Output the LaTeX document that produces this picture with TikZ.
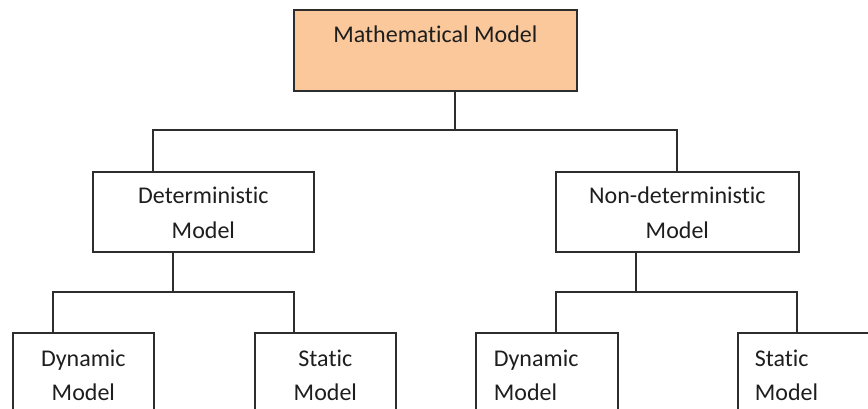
\documentclass[tikz,border=0pt]{standalone}
\usepackage{fontspec}
\setmainfont{Carlito}[Ligatures={NoCommon}]
\definecolor{topfill}{RGB}{250,200,155}
\definecolor{ln}{RGB}{45,45,45}
\definecolor{tx}{RGB}{30,30,30}
\begin{document}
\begin{tikzpicture}[x=1pt,y=-1pt,
  box/.style={draw=ln, line width=1.7pt, inner sep=0pt, anchor=north west, text=tx,
    font=\fontsize{24}{35}\selectfont},
  conn/.style={draw=ln, line width=1.7pt}]
\useasboundingbox (0,0) rectangle (868,409);
\clip (0,0) rectangle (868,409);
\fill[white] (0,0) rectangle (868,409);
% nodes
\node[box, fill=topfill] (top) at (293,9)
  {\parbox[t][81pt][t]{283pt}{\centering\rule{0pt}{33pt}Mathematical Model}};
\node[box] (det) at (92,171)
  {\parbox[t][80pt][t]{221pt}{\centering\rule{0pt}{32pt}Deterministic\\Model}};
\node[box] (nd) at (555,171)
  {\parbox[t][80pt][t]{243pt}{\centering\rule{0pt}{32pt}Non-deterministic\\Model}};
\node[box, font=\fontsize{24}{34}\selectfont] (ldyn) at (12,332)
  {\parbox[t][110pt][t]{141pt}{\centering\rule{0pt}{34pt}Dynamic\\Model}};
\node[box, font=\fontsize{24}{34}\selectfont] (lsta) at (254,332)
  {\parbox[t][110pt][t]{141pt}{\centering\rule{0pt}{34pt}Static\\Model}};
\node[box, font=\fontsize{24}{34}\selectfont] (rdyn) at (475,332)
  {\parbox[t][110pt][t]{142pt}{\raggedright\leftskip=18pt\rule{0pt}{34pt}Dynamic\\Model}};
\node[box, font=\fontsize{24}{34}\selectfont] (rsta) at (737,332)
  {\parbox[t][110pt][t]{142pt}{\raggedright\leftskip=17pt\rule{0pt}{34pt}Static\\Model}};
% junctions
\coordinate (j0) at (455,130);
\coordinate (j0L) at (153,130);
\coordinate (j0R) at (677,130);
\coordinate (j1) at (173,292);
\coordinate (j1L) at (53,292);
\coordinate (j1R) at (294,292);
\coordinate (j2) at (636,292);
\coordinate (j2L) at (556,292);
\coordinate (j2R) at (797,292);
% connectors
\draw[conn] (j0 |- top.south) -- (j0);
\draw[conn] (j0L |- det.north) -- (j0L) -- (j0R) -- (j0R |- nd.north);
\draw[conn] (j1 |- det.south) -- (j1);
\draw[conn] (j1L |- ldyn.north) -- (j1L) -- (j1R) -- (j1R |- lsta.north);
\draw[conn] (j2 |- nd.south) -- (j2);
\draw[conn] (j2L |- rdyn.north) -- (j2L) -- (j2R) -- (j2R |- rsta.north);
\end{tikzpicture}
\end{document}
